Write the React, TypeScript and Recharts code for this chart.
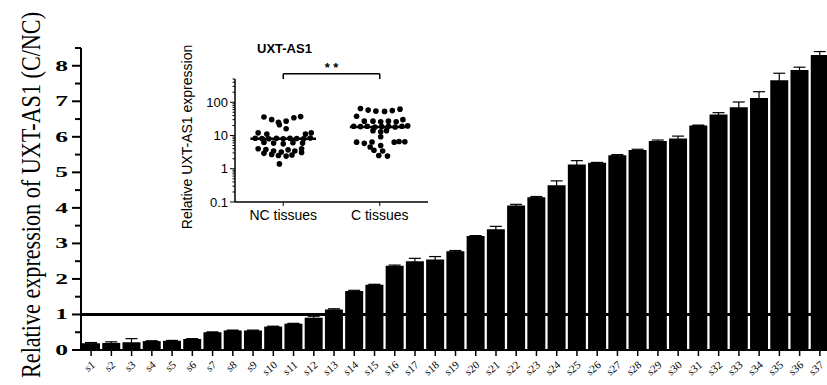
import React from 'react';
import {
  BarChart, Bar, XAxis, YAxis, ErrorBar, ReferenceLine,
  ScatterChart, Scatter,
} from 'recharts';

// main bar chart: relative expression per sample (C/NC)
const samples = [
  's1', 's2', 's3', 's4', 's5', 's6', 's7', 's8', 's9', 's10',
  's11', 's12', 's13', 's14', 's15', 's16', 's17', 's18', 's19', 's20',
  's21', 's22', 's23', 's24', 's25', 's26', 's27', 's28', 's29', 's30',
  's31', 's32', 's33', 's34', 's35', 's36', 's37',
];
const ratios = [
  0.19, 0.2, 0.22, 0.25, 0.26, 0.31, 0.5, 0.55, 0.55, 0.66,
  0.74, 0.91, 1.14, 1.66, 1.84, 2.37, 2.5, 2.55, 2.78, 3.21,
  3.4, 4.07, 4.3, 4.64, 5.22, 5.27, 5.48, 5.63, 5.88, 5.95,
  6.32, 6.63, 6.83, 7.09, 7.59, 7.88, 8.3,
];
const ratioErrors = [
  0.02, 0.03, 0.1, 0.01, 0.01, 0.01, 0.01, 0.01, 0.01, 0.01,
  0.01, 0.04, 0.02, 0.02, 0.01, 0.02, 0.08, 0.08, 0.02, 0.01,
  0.08, 0.03, 0.02, 0.12, 0.11, 0.01, 0.02, 0.02, 0.03, 0.07,
  0.01, 0.05, 0.15, 0.18, 0.2, 0.08, 0.1,
];
const yTicks = [0, 0.5, 1, 1.5, 2, 2.5, 3, 3.5, 4, 4.5, 5, 5.5, 6, 6.5, 7, 7.5, 8, 8.5];

// inset scatter: [jitter offset, relative expression]
const groups = ['NC tissues', 'C tissues'];
const ncPoints = [
  [-0.2, 36], [-0.12, 30], [-0.05, 25], [0.03, 27], [0.11, 34], [0.18, 37],
  [-0.04, 21], [0.03, 16],
  [-0.26, 12], [-0.17, 11], [0.23, 11], [0.29, 12],
  [-0.29, 8.3], [-0.22, 8.1], [-0.15, 8], [-0.07, 8.2], [0, 8], [0.07, 8.3], [0.14, 8.1], [0.21, 7.9], [0.28, 8.4],
  [-0.2, 6.2], [-0.1, 5.9], [0, 5.6], [0.1, 6.1], [0.2, 5.9],
  [-0.26, 4], [-0.18, 3.8], [-0.1, 3.4], [-0.02, 3.2], [0.05, 3.7], [0.12, 3.4], [0.19, 4],
  [-0.2, 2.9], [-0.12, 2.7], [-0.05, 2.5], [0.03, 2.4], [0.09, 2.6], [0.19, 3.1],
  [-0.04, 1.4],
];
const cPoints = [
  [-0.2, 65], [-0.12, 58], [-0.04, 54], [0.05, 53], [0.13, 56], [0.21, 62],
  [-0.24, 38], [0.24, 30],
  [-0.16, 27], [-0.07, 27], [0.01, 26], [0.09, 27], [0.17, 26],
  [-0.27, 19], [-0.2, 18.5], [-0.13, 19], [-0.05, 18], [0.02, 18.5], [0.09, 19], [0.16, 18], [0.23, 19], [0.29, 19.5],
  [-0.07, 14], [0.01, 13], [0.07, 14],
  [0.01, 9.2],
  [-0.24, 6.3], [-0.16, 5.8], [-0.08, 6.4], [0.15, 6.3], [0.2, 6.6], [0.26, 6.5],
  [-0.1, 4.5], [0.01, 5],
  [-0.06, 3.6], [0.03, 3.4],
  [-0.01, 2.5], [0.08, 2.4],
];
const medians = [8, 18];
const logTicks = [
  0.1, 0.2, 0.3, 0.4, 0.5, 0.6, 0.7, 0.8, 0.9,
  1, 2, 3, 4, 5, 6, 7, 8, 9,
  10, 20, 30, 40, 50, 60, 70, 80, 90,
  100, 200, 300, 400, 500,
];

const barData = samples.map((s, i) => ({ name: s, value: ratios[i], err: ratioErrors[i] }));
const ncData = ncPoints.map(([dx, v]) => ({ x: 0 + dx, y: v }));
const cData = cPoints.map(([dx, v]) => ({ x: 1 + dx, y: v }));

const SERIF = '"Liberation Serif", "DejaVu Serif", serif';
const SANS = '"Liberation Sans", Arial, sans-serif';

const MainYTick = (props: any) => {
  const { y, payload } = props;
  const v = payload.value;
  const major = Number.isInteger(v);
  return (
    <g>
      <line x1={major ? 72 : 75} x2={81} y1={y} y2={y} stroke="#000" strokeWidth={2} />
      {major && (
        <text
          transform={`translate(61.5,${y}) scale(1.7,1)`}
          textAnchor="middle"
          dominantBaseline="central"
          fontFamily={SERIF}
          fontWeight="bold"
          fontSize={15}
          fill="#000"
        >
          {v}
        </text>
      )}
    </g>
  );
};

const MainXTick = (props: any) => {
  const { x, y, payload } = props;
  return (
    <text
      transform={`translate(${x + 2},${y + 5}) rotate(-40)`}
      textAnchor="end"
      dominantBaseline="central"
      fontFamily={SERIF}
      fontSize={11}
      fill="#000"
    >
      {payload.value}
    </text>
  );
};

const InsetYTick = (props: any) => {
  const { y, payload } = props;
  const v = payload.value;
  const major = [0.1, 1, 10, 100].includes(v);
  return (
    <g>
      <line x1={major ? 230 : 232.5} x2={235} y1={y} y2={y} stroke="#000" strokeWidth={1} />
      {major && (
        <text x={228} y={y} textAnchor="end" dominantBaseline="central" fontFamily={SANS} fontSize={13} fill="#000">
          {v}
        </text>
      )}
    </g>
  );
};

const InsetXTick = (props: any) => {
  const { x, y, payload } = props;
  return (
    <text x={x} y={y + 7} textAnchor="middle" dominantBaseline="central" fontFamily={SANS} fontSize={14} fill="#000">
      {groups[payload.value]}
    </text>
  );
};

const dot = (p: any) => <circle cx={p.cx} cy={p.cy} r={2.8} fill="#000" />;

export default function App() {
  return (
    <div style={{ position: 'absolute', left: 0, top: 0, width: 827, height: 385, overflow: 'hidden', background: '#fff' }}>
      <div style={{ position: 'absolute', left: 0, top: 0 }}>
        <BarChart width={830} height={385} data={barData} margin={{ top: 48, right: 0, bottom: 0, left: 0 }} barCategoryGap={1}>
          <XAxis
            dataKey="name"
            interval={0}
            height={35}
            tick={<MainXTick />}
            tickSize={6}
            tickLine={{ stroke: '#000', strokeWidth: 1.5 }}
            axisLine={{ stroke: '#000', strokeWidth: 2 }}
          />
          <YAxis
            width={81}
            domain={[0, 8.5]}
            ticks={yTicks}
            interval={0}
            tickLine={false}
            tick={<MainYTick />}
            axisLine={{ stroke: '#000', strokeWidth: 2 }}
            label={{
              content: () => (
                <text
                  transform="translate(31,195) rotate(-90) scale(1,1.22)"
                  textAnchor="middle"
                  dominantBaseline="central"
                  fontFamily={SERIF}
                  fontSize={22}
                  textLength={366}
                  lengthAdjust="spacingAndGlyphs"
                  fill="#000"
                >
                  Relative expression of UXT-AS1 (C/NC)
                </text>
              ),
            }}
          />
          <Bar dataKey="value" fill="#000" isAnimationActive={false}>
            <ErrorBar dataKey="err" direction="y" width={6} stroke="#000" strokeWidth={1.2} />
          </Bar>
          <ReferenceLine y={1} stroke="#000" strokeWidth={3} />
        </BarChart>
      </div>

      <div style={{ position: 'absolute', left: 0, top: 0 }}>
        <ScatterChart width={827} height={385} margin={{ top: 79, right: 399, bottom: 153, left: 190 }}>
          <XAxis
            type="number"
            dataKey="x"
            domain={[-0.5, 1.5]}
            ticks={[0, 1]}
            height={30}
            tick={<InsetXTick />}
            tickSize={4}
            tickLine={{ stroke: '#000' }}
            axisLine={{ stroke: '#000', strokeWidth: 1.5 }}
          />
          <YAxis
            type="number"
            dataKey="y"
            scale="log"
            domain={[0.1, 500]}
            allowDataOverflow
            ticks={logTicks}
            interval={0}
            width={45}
            tickLine={false}
            tick={<InsetYTick />}
            axisLine={{ stroke: '#000', strokeWidth: 1.5 }}
            label={{
              content: () => (
                <text
                  transform="translate(187,137) rotate(-90)"
                  textAnchor="middle"
                  dominantBaseline="central"
                  fontFamily={SANS}
                  fontSize={14}
                  fill="#000"
                >
                  Relative UXT-AS1 expression
                </text>
              ),
            }}
          />
          <Scatter data={ncData} shape={dot} isAnimationActive={false} />
          <Scatter data={cData} shape={dot} isAnimationActive={false} />
          <ReferenceLine segment={[{ x: -0.34, y: medians[0] }, { x: 0.34, y: medians[0] }]} stroke="#000" strokeWidth={2.5} />
          <ReferenceLine segment={[{ x: 0.69, y: medians[1] }, { x: 1.31, y: medians[1] }]} stroke="#000" strokeWidth={2.5} />
          <ReferenceLine
            segment={[{ x: 0, y: 720 }, { x: 1, y: 720 }]}
            ifOverflow="visible"
            stroke="#000"
            strokeWidth={1.5}
            label={{ value: '* *', position: 'top', fontFamily: SANS, fontWeight: 'bold', fontSize: 13, fill: '#000', offset: 2 }}
          />
          <ReferenceLine segment={[{ x: 0, y: 720 }, { x: 0, y: 500 }]} ifOverflow="visible" stroke="#000" strokeWidth={1.5} />
          <ReferenceLine segment={[{ x: 1, y: 720 }, { x: 1, y: 500 }]} ifOverflow="visible" stroke="#000" strokeWidth={1.5} />
        </ScatterChart>
      </div>

      <div
        style={{
          position: 'absolute', left: 257, top: 41, fontFamily: SANS, fontWeight: 'bold',
          fontSize: 13, lineHeight: '16px', color: '#000',
        }}
      >
        UXT-AS1
      </div>
    </div>
  );
}
